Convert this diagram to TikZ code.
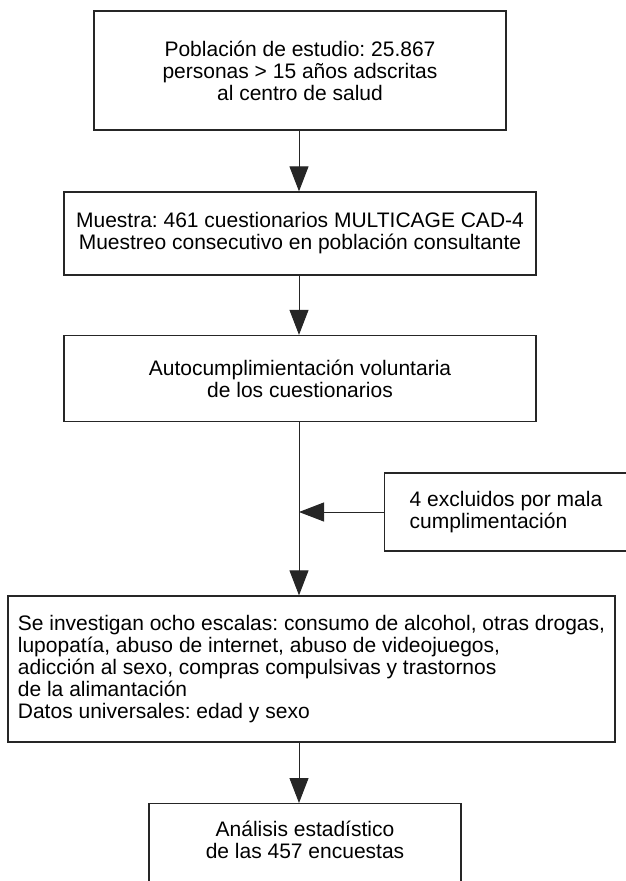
\documentclass[tikz,border=0pt]{standalone}
\usepackage{fontspec}
\setmainfont{Liberation Sans}
\frenchspacing
\usetikzlibrary{positioning, arrows.meta}

\begin{document}
\begin{tikzpicture}[x=1pt, y=-1pt,
    box/.style = {draw=black!85, line width=1.3pt, align=center, inner sep=4pt, font=\fontsize{21}{22}\selectfont},
    arr/.style = {draw=black!85, line width=1pt, -{Triangle[length=25pt, width=19pt]}}]
    \useasboundingbox (0,0) rectangle (626,881);

    % cajas
    \node[box, minimum width=412pt, minimum height=119pt] (pob) at (300,70.5) {Población de estudio: 25.867\\personas > 15 años adscritas\\al centro de salud};
    \node[box, minimum width=472pt, minimum height=83pt] (mue) at (300,233.5) {Muestra: 461 cuestionarios MULTICAGE CAD-4\\Muestreo consecutivo en población consultante};
    \node[box, minimum width=472pt, minimum height=86pt] (auto) at (300,378.5) {Autocumplimientación voluntaria\\de los cuestionarios};
    \node[box, align=left, minimum width=234pt, minimum height=78pt, inner xsep=25pt] (excl) at (506,512) {4 excluidos por mala\\cumplimentación};
    \node[box, align=left, minimum width=607pt, minimum height=146pt] (inv) at (311.5,669) {Se investigan ocho escalas: consumo de alcohol, otras drogas,\\lupopatía, abuso de internet, abuso de videojuegos,\\adicción al sexo, compras compulsivas y trastornos\\de la alimantación\\Datos universales: edad y sexo};
    \node[box, anchor=north, minimum width=312pt, inner xsep=0pt, inner ysep=17pt] (ana) at (305,803) {\parbox[t][100pt][t]{300pt}{\centering Análisis estadístico\\de las 457 encuestas}};

    % flechas
    \coordinate (eje) at (299,0);
    \draw[arr] (pob.south -| eje) -- (mue.north -| eje);
    \draw[arr] (mue.south -| eje) -- (auto.north -| eje);
    \draw[arr] (auto.south -| eje) -- (inv.north -| eje);
    \draw[arr] (excl.west) -- (excl.west -| eje);
    \draw[arr] (inv.south -| eje) -- (ana.north -| eje);
\end{tikzpicture}
\end{document}
